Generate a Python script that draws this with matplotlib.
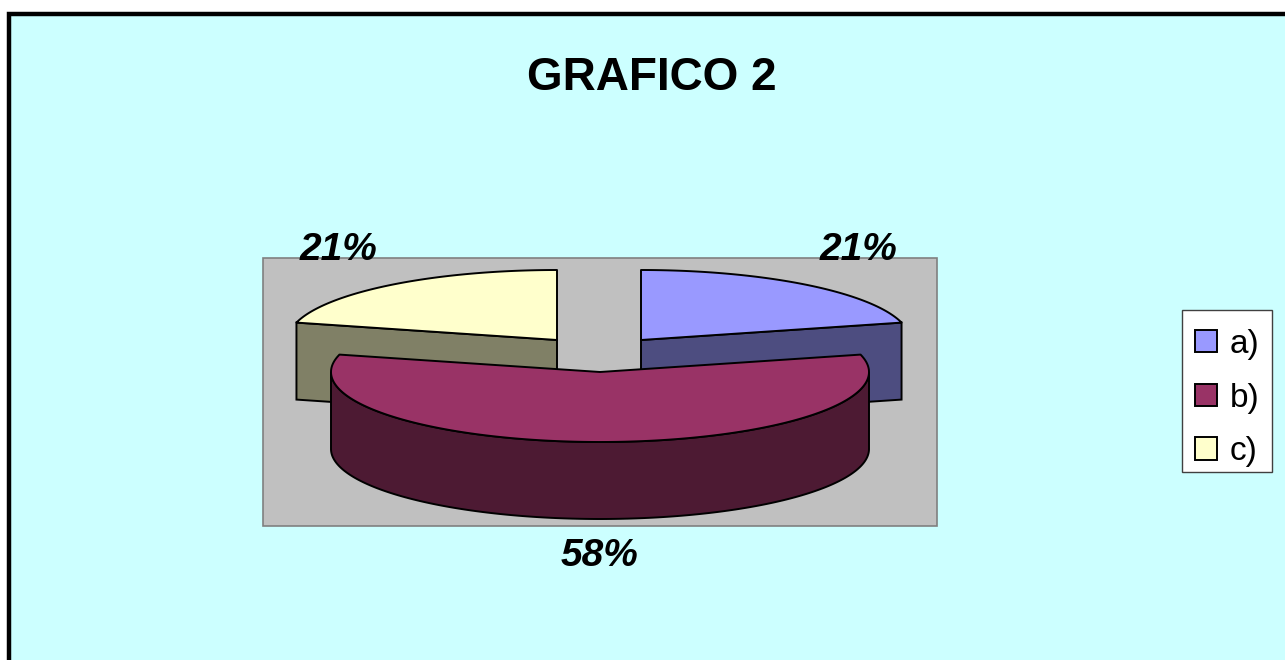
"""
GRAFICO 2: pie chart with a 3D look, exploded slices
"""

import numpy as np
import matplotlib

matplotlib.use("Agg")
import matplotlib.pyplot as plt
from matplotlib.patches import Polygon, Rectangle

# data
categories = ["a)", "b)", "c)"]
values = [21, 58, 21]
title_text = "GRAFICO 2"

# colours
top_colors = ["#9999FF", "#993366", "#FFFFCC"]
side_colors = ["#4D4D80", "#4D1A33", "#808066"]
BG = "#CCFFFF"
PLOT_BG = "#C0C0C0"

# pie geometry in pixels
RX, RY, DEPTH = 269, 70, 77
centers = [(641, 340), (600, 372), (557, 340)]
label_pos = [(859, 250), (600, 556), (339, 250)]
LW = 1.4

plt.rcParams["font.family"] = ["Liberation Sans", "DejaVu Sans"]

fig = plt.figure(figsize=(12.85, 6.6), dpi=100, facecolor="white")
ax = fig.add_axes([0, 0, 1, 1])
ax.set_xlim(0, 1285)
ax.set_ylim(660, 0)
ax.axis("off")

# chart area and plot area
ax.add_patch(Rectangle((9.2, 14), 1300, 700, fc=BG, ec="black", lw=3.2, zorder=1))
ax.add_patch(Rectangle((263, 258), 674, 268, fc=PLOT_BG, ec="#808080", lw=1.2, zorder=1))


def rim(cx, cy, a1, a2):
    t = np.radians(np.linspace(a1, a2, 200))
    return cx + RX * np.sin(t), cy - RY * np.cos(t)


# clockwise from 12 o'clock
edges = np.concatenate([[0], np.cumsum(values)]) / sum(values) * 360
handles = []
for i in [0, 2, 1]:
    cx, cy = centers[i]
    a1, a2 = edges[i], edges[i + 1]
    x, y = rim(cx, cy, a1, a2)
    z = 2 + i if i != 1 else 6

    # outer wall: only the part of the rim facing the viewer
    f1, f2 = max(a1, 90), min(a2, 270)
    if f1 < f2:
        fx, fy = rim(cx, cy, f1, f2)
        wall = np.column_stack(
            [np.r_[fx, fx[::-1]], np.r_[fy, fy[::-1] + DEPTH]]
        )
        ax.add_patch(Polygon(wall, fc=side_colors[i], ec="black", lw=LW, zorder=z))

    # cut wall of the side slices
    for a in (a1, a2):
        if 0 < a < 90 or 270 < a < 360:
            ex, ey = rim(cx, cy, a, a)
            if i != 1:
                cut = [(cx, cy), (ex[0], ey[0]), (ex[0], ey[0] + DEPTH), (cx, cy + DEPTH)]
                ax.add_patch(Polygon(cut, fc=side_colors[i], ec="black", lw=LW, zorder=z))

    # top face
    top = np.column_stack([np.r_[cx, x], np.r_[cy, y]])
    patch = Polygon(top, fc=top_colors[i], ec="black", lw=LW, zorder=z, joinstyle="round")
    ax.add_patch(patch)
    handles.append((i, patch))

for (lx, ly), v in zip(label_pos, values):
    ax.text(lx, ly, f"{v}%", fontsize=28, fontweight="bold", fontstyle="italic",
            ha="center", va="center", color="black", zorder=10)

ax.text(652, 78, title_text, fontsize=33, fontweight="bold",
        ha="center", va="center", color="black", zorder=10)

# legend box drawn apart: the rows sit low inside it
ax.add_patch(Rectangle((1182, 310), 90, 162, fc="white", ec="#404040", lw=1.0, zorder=9))
handles = [p for _, p in sorted(handles, key=lambda h: h[0])]
leg = ax.legend(
    handles,
    categories,
    loc="center",
    bbox_to_anchor=(1227, 398),
    bbox_transform=ax.transData,
    fontsize=24,
    frameon=False,
    handlelength=0.66,
    handleheight=0.66,
    handletextpad=0.39,
    labelspacing=0.68,
    borderpad=0.38,
    borderaxespad=0,
)
leg.set_zorder(10)

plt.savefig("out.png", dpi=100)
